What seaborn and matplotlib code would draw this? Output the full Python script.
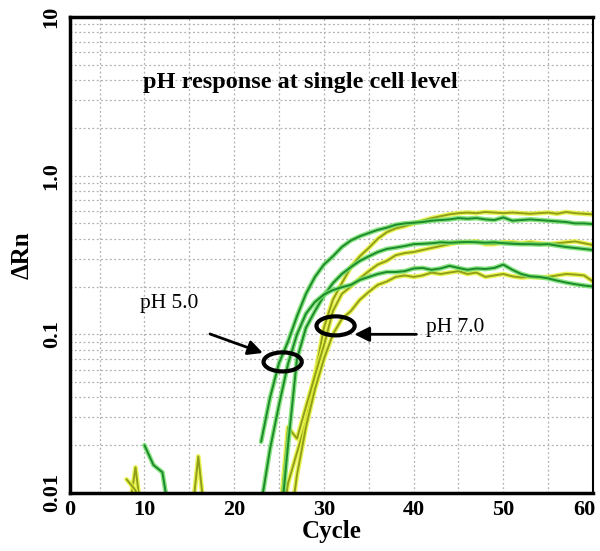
import numpy as np
import pandas as pd
import seaborn as sns
import matplotlib.pyplot as plt
import matplotlib.patheffects as pe
from matplotlib.patches import Ellipse
from matplotlib.ticker import FixedLocator, LogLocator, NullFormatter
from matplotlib.transforms import ScaledTranslation

# amplification curves (cycle = start + index)
# pH 5.0 wells (green)
g1_start = 23
g1_vals = [0.021, 0.040, 0.066, 0.090, 0.13, 0.18, 0.23, 0.275, 0.31, 0.355,
           0.39, 0.415, 0.435, 0.455, 0.47, 0.49, 0.50, 0.505, 0.51, 0.52,
           0.525, 0.53, 0.54, 0.535, 0.54, 0.53, 0.525, 0.545, 0.52, 0.525,
           0.53, 0.525, 0.52, 0.515, 0.51, 0.50, 0.50, 0.495]
g2_start = 25
g2_vals = [0.005, 0.02, 0.07, 0.11, 0.14, 0.175, 0.21, 0.24, 0.265, 0.29,
           0.31, 0.33, 0.345, 0.352, 0.36, 0.37, 0.372, 0.375, 0.38, 0.378,
           0.38, 0.382, 0.38, 0.378, 0.38, 0.375, 0.372, 0.37, 0.37, 0.368,
           0.37, 0.362, 0.355, 0.35, 0.345, 0.34]
g3_noise_start = 10
g3_noise = [0.020, 0.015, 0.0135, 0.006]
g3_start = 22
g3_vals = [0.005, 0.0085, 0.019, 0.036, 0.065, 0.10, 0.135, 0.16, 0.178, 0.19,
           0.198, 0.205, 0.22, 0.23, 0.24, 0.247, 0.247, 0.25, 0.26, 0.262,
           0.255, 0.26, 0.27, 0.262, 0.255, 0.26, 0.258, 0.262, 0.275, 0.255,
           0.24, 0.232, 0.23, 0.225, 0.218, 0.212, 0.207, 0.203, 0.2]

# pH 7.0 wells (yellow)
y1_noise_start = 8
y1_noise = [0.006, 0.0145, 0.005]
y1_start = 25
y1_vals = [0.005, 0.0115, 0.018, 0.028, 0.055, 0.11, 0.165, 0.21, 0.265, 0.31,
           0.35, 0.40, 0.44, 0.465, 0.48, 0.50, 0.52, 0.54, 0.555, 0.57,
           0.58, 0.585, 0.58, 0.59, 0.585, 0.58, 0.585, 0.58, 0.575, 0.58,
           0.585, 0.575, 0.59, 0.58, 0.575, 0.57]
y2_noise_start = 8
y2_noise = [0.0122, 0.0104, 0.0048]
y2_start = 25
y2_vals = [0.006, 0.026, 0.022, 0.035, 0.055, 0.085, 0.14, 0.18, 0.2, 0.225,
           0.25, 0.275, 0.29, 0.315, 0.325, 0.33, 0.34, 0.35, 0.36, 0.37,
           0.38, 0.38, 0.385, 0.37, 0.37, 0.38, 0.38, 0.375, 0.38, 0.375,
           0.37, 0.375, 0.38, 0.385, 0.375, 0.365]
y3_noise_start = 15
y3_noise = [0.005, 0.017, 0.005]
y3_start = 26
y3_vals = [0.005, 0.013, 0.026, 0.045, 0.07, 0.1, 0.125, 0.14, 0.165, 0.185,
           0.205, 0.215, 0.23, 0.235, 0.23, 0.235, 0.245, 0.24, 0.245, 0.25,
           0.24, 0.245, 0.23, 0.235, 0.24, 0.232, 0.228, 0.23, 0.228, 0.23,
           0.235, 0.24, 0.238, 0.235, 0.215]

segments = [
    ('G1', 'main', g1_start, g1_vals),
    ('G2', 'main', g2_start, g2_vals),
    ('G3', 'noise', g3_noise_start, g3_noise),
    ('G3', 'main', g3_start, g3_vals),
    ('Y1', 'noise', y1_noise_start, y1_noise),
    ('Y1', 'main', y1_start, y1_vals),
    ('Y2', 'noise', y2_noise_start, y2_noise),
    ('Y2', 'main', y2_start, y2_vals),
    ('Y3', 'noise', y3_noise_start, y3_noise),
    ('Y3', 'main', y3_start, y3_vals),
]
rows = []
for well, part, start, vals in segments:
    for i, v in enumerate(vals):
        rows.append({'well': well, 'seg': well + part, 'cycle': start + i, 'drn': v})
df = pd.DataFrame(rows)

green, green_glow = '#1d8a2c', '#74e06c'
yellow, yellow_glow = '#8f9f18', '#e8f23a'
palette = {'G1': green, 'G2': green, 'G3': green,
           'Y1': yellow, 'Y2': yellow, 'Y3': yellow}

sns.set_style('white')
plt.rcParams['font.family'] = ['Liberation Serif', 'DejaVu Serif']
plt.rcParams['text.color'] = 'black'
plt.rcParams['axes.labelcolor'] = 'black'
plt.rcParams['xtick.color'] = 'black'
plt.rcParams['ytick.color'] = 'black'

fig = plt.figure(figsize=(6, 5.51), dpi=100)
ax = fig.add_axes([0.1167, 0.1053, 0.8717, 0.8639])

# yellow first so green stays on top like the reference
for grp in (['Y1', 'Y2', 'Y3'], ['G1', 'G2', 'G3']):
    sns.lineplot(data=df[df.well.isin(grp)], x='cycle', y='drn', hue='well',
                 units='seg', estimator=None, sort=False, palette=palette,
                 legend=False, linewidth=1.4, ax=ax)

for ln in ax.lines:
    glow = green_glow if ln.get_color() == green else yellow_glow
    ln.set_path_effects([pe.Stroke(linewidth=3.4, foreground=glow, alpha=0.85),
                         pe.Normal()])

ax.set_yscale('log')
xmin = 1.7
ax.set_xlim(xmin, 60)
ax.set_ylim(0.01, 10)

ax.xaxis.set_major_locator(FixedLocator([xmin, 10, 20, 30, 40, 50, 60]))
ax.xaxis.set_minor_locator(FixedLocator([5, 15, 25, 35, 45, 55]))
ax.set_xticklabels(['0', '10', '20', '30', '40', '50', '60'])
ax.yaxis.set_major_locator(FixedLocator([0.01, 0.1, 1, 10]))
ax.yaxis.set_minor_locator(LogLocator(base=10, subs=np.arange(2, 10)))
ax.yaxis.set_minor_formatter(NullFormatter())
ax.set_yticklabels(['0.01', '0.1', '1.0', '10'], rotation=90, va='center')

ax.grid(which='both', linestyle=(0, (1.5, 2)), color='#b0b0b0', linewidth=0.9)
ax.tick_params(which='both', length=0, labelsize=16)
ax.tick_params(axis='x', pad=5)
ax.tick_params(axis='y', pad=6)
for lab in ax.get_xticklabels() + ax.get_yticklabels():
    lab.set_fontweight('bold')
# keep the last cycle label inside the canvas
last = ax.get_xticklabels()[-1]
last.set_transform(last.get_transform() + ScaledTranslation(-6 / 72, 0, fig.dpi_scale_trans))

for s in ax.spines.values():
    s.set_color('black')
    s.set_linewidth(1.5)
ax.spines['left'].set_linewidth(2.5)
ax.spines['bottom'].set_linewidth(2.5)
ax.spines['top'].set_linewidth(2.5)

ax.set_xlabel('Cycle', fontsize=18, fontweight='bold', labelpad=0)
ax.set_ylabel('\u0394Rn', fontsize=18, fontweight='bold', labelpad=6)

ax.text(0.44, 0.863, 'pH response at single cell level', transform=ax.transAxes,
        ha='center', va='center', fontsize=17.5, fontweight='bold')

# annotations
ax.text(12.8, 0.157, 'pH 5.0', ha='center', va='center', fontsize=15.5)
ax.text(44.6, 0.111, 'pH 7.0', ha='center', va='center', fontsize=15.5)
arrow = dict(arrowstyle='-|>', color='black', lw=2, mutation_scale=22,
             shrinkA=0, shrinkB=0)
ax.annotate('', xy=(23.2, 0.0763), xytext=(17.3, 0.1005), arrowprops=arrow)
ax.annotate('', xy=(33.4, 0.10), xytext=(40.3, 0.10), arrowprops=arrow)

fig.canvas.draw()
to_axes = ax.transAxes.inverted()
for cx, cy in [(25.4, 0.067), (31.3, 0.113)]:
    px, py = to_axes.transform(ax.transData.transform((cx, cy)))
    ax.add_patch(Ellipse((px, py), 0.073, 0.04, transform=ax.transAxes,
                         fill=False, edgecolor='black', linewidth=3, zorder=5))

fig.savefig('out.png', dpi=100)
